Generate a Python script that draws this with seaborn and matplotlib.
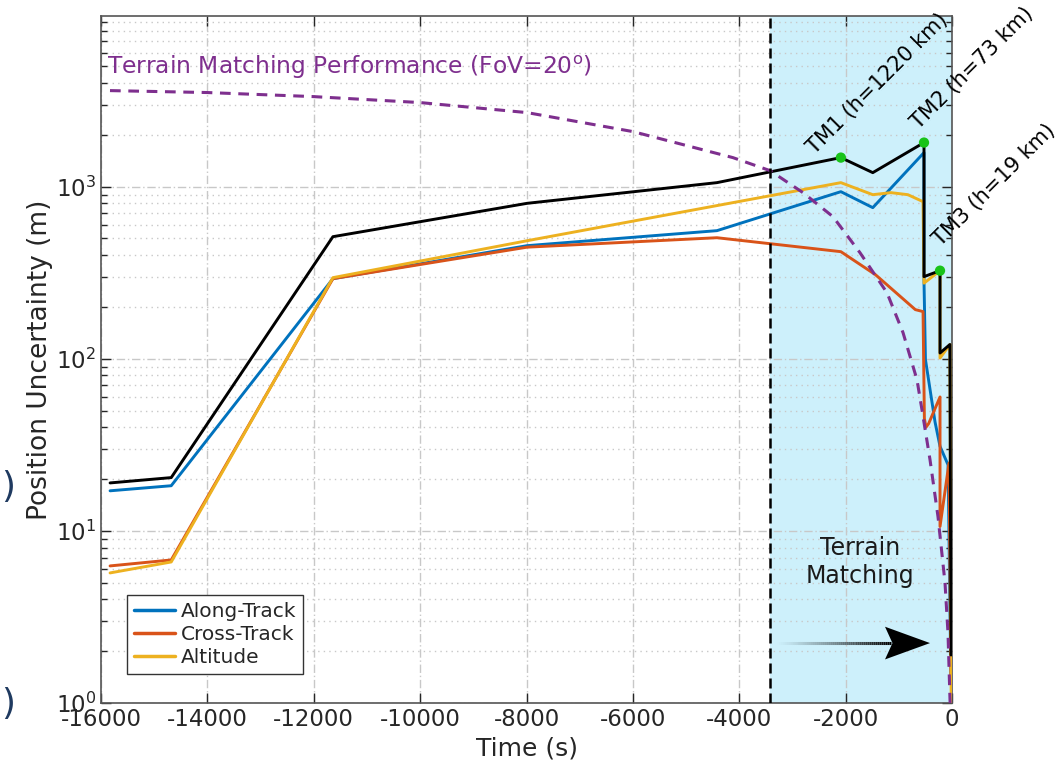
import numpy as np
import pandas as pd
import matplotlib
matplotlib.use("Agg")
import matplotlib.pyplot as plt
import seaborn as sns
from matplotlib.collections import LineCollection
from matplotlib.ticker import LogLocator, NullFormatter, FixedLocator

# ---------------- data ----------------
t_total = [-15830, -14680, -11640, -7990, -4420, -2090, -1490, -527, -527, -226, -226, -40, -20]
v_total = [19.0, 20.4, 512, 800, 1055, 1475, 1206, 1803, 300, 325, 108, 121, 1.9]

t_along = [-15830, -14680, -11640, -7990, -4420, -2090, -1490, -527, -527, -500, -320, -226, -75, -20]
v_along = [17.1, 18.3, 292, 454, 555, 935, 755, 1577, 280, 99, 43, 31, 24.2, 1.3]

t_cross = [-15830, -14680, -11640, -7990, -4420, -2090, -1440, -690, -545, -520, -490, -440, -226, -226, -57, -20]
v_cross = [6.26, 6.78, 292, 445, 505, 419, 308, 193, 188, 45, 40, 42, 60, 10.6, 24.8, 1.3]

t_alt = [-15830, -14680, -11640, -7990, -2090, -1490, -1150, -830, -545, -527, -226, -226, -40, -15]
v_alt = [5.70, 6.60, 296, 485, 1055, 898, 923, 898, 818, 275, 325, 101, 121, 0.8]

t_tm = [-15831, -14007, -12014, -10003, -7991, -5998, -4118, -3422, -2802, -2238,
        -1730, -1223, -922, -659, -565, -414, -264, -132, -76, -38, -20]
v_tm = [3614, 3522, 3336, 3080, 2693, 2088, 1474, 1239, 923, 669,
        413, 242, 142, 75.5, 50.5, 25.9, 12.1, 4.99, 2.55, 1.04, 0.8]

tm_names = ["TM1 (h=1220 km)", "TM2 (h=73 km)", "TM3 (h=19 km)"]
tm_t = [-2090, -527, -226]
tm_v = [1475, 1803, 325]

t_switch = -3420
x_ticks = [-16000, -14000, -12000, -10000, -8000, -6000, -4000, -2000, 0]
series_names = ["Along-Track", "Cross-Track", "Altitude"]

# ---------------- style ----------------
sns.set_style("ticks")
plt.rcParams["font.family"] = ["DejaVu Sans"]
plt.rcParams["mathtext.fontset"] = "dejavusans"
dark = "#262626"

fig = plt.figure(figsize=(10.61, 7.67), dpi=100)
ax = fig.add_axes([0.0952, 0.0834, 0.8021, 0.8957])

ax.axvspan(t_switch, 0, color="#cdf0fb", zorder=0, lw=0)

blue, orange, yellow, purple = "#0072BD", "#D95319", "#EDB120", "#7E2F8E"
lw = 2.1
for tt, vv, name, col in [(t_along, v_along, series_names[0], blue),
                          (t_cross, v_cross, series_names[1], orange),
                          (t_alt, v_alt, series_names[2], yellow)]:
    df = pd.DataFrame({"t": tt, "v": vv})
    sns.lineplot(data=df, x="t", y="v", ax=ax, color=col, lw=lw, label=name,
                 estimator=None, sort=False, zorder=3)
df = pd.DataFrame({"t": t_total, "v": v_total})
sns.lineplot(data=df, x="t", y="v", ax=ax, color="black", lw=lw, estimator=None,
             sort=False, zorder=4, legend=False)
df = pd.DataFrame({"t": t_tm, "v": v_tm})
sns.lineplot(data=df, x="t", y="v", ax=ax, color=purple, lw=2.2, estimator=None,
             sort=False, zorder=5, legend=False, linestyle=(0, (3.5, 2.5)))

ax.axvline(t_switch, color="black", lw=1.8, linestyle=(0, (4, 2)), zorder=5)

ax.scatter(tm_t, tm_v, s=55, color="#19c319", zorder=7, edgecolor="none")
offsets = [(-17, 0), (-2, 7), (3, 15)]
for name, tx, vy, off in zip(tm_names, tm_t, tm_v, offsets):
    ax.annotate(name, (tx, vy), xytext=off, textcoords="offset points",
                rotation=45, rotation_mode="anchor", ha="left", va="bottom",
                fontsize=15, color="black", annotation_clip=False, zorder=8)

ax.set_yscale("log")
ax.set_xlim(-16000, 0)
ax.set_ylim(1, 9800)
ax.xaxis.set_major_locator(FixedLocator(x_ticks))
ax.set_xticklabels([str(v) for v in x_ticks])
ax.yaxis.set_major_locator(FixedLocator([1, 10, 100, 1000]))
ax.yaxis.set_minor_locator(LogLocator(base=10, subs=np.arange(2, 10)))
ax.yaxis.set_minor_formatter(NullFormatter())

ax.grid(True, which="major", color="#c8c8c8", lw=1.0, linestyle=(0, (6, 2, 1, 2)), zorder=1)
ax.grid(True, which="minor", axis="y", color="#c8c8c8", lw=1.0, linestyle=(0, (1, 3)), zorder=1)
ax.set_axisbelow(True)

ax.tick_params(which="both", direction="in", top=True, right=True, colors=dark,
               labelsize=16.5, width=1.0)
ax.tick_params(which="major", length=7)
ax.tick_params(which="minor", length=4)
for s in ax.spines.values():
    s.set_color("#555555")
    s.set_linewidth(1.2)

ax.set_xlabel("Time (s)", fontsize=18, color=dark, labelpad=4)
ax.set_ylabel("Position Uncertainty (m)", fontsize=19, color=dark, labelpad=2)

ax.text(0.007, 0.925, "Terrain Matching Performance (FoV=20$^{\\mathrm{o}}$)",
        transform=ax.transAxes, fontsize=16.8, color=purple, ha="left", va="center", zorder=9)
ax.text(-1730, 6.6, "Terrain\nMatching", fontsize=17, color="#1a1a1a", ha="center",
        va="center", linespacing=1.2, zorder=6)

# gradient arrow
ya = 2.23
xs = np.linspace(-3330, -1150, 60)
pts = np.array([xs, np.full_like(xs, ya)]).T.reshape(-1, 1, 2)
segs = np.concatenate([pts[:-1], pts[1:]], axis=1)
alphas = np.linspace(0.0, 1.0, len(segs)) ** 1.3
cols = [(0, 0, 0, a) for a in alphas]
ax.add_collection(LineCollection(segs, colors=cols, linewidths=2.2, zorder=6))
head_x = [-414, -1260, -1120, -1260]
head_y = [ya, ya * 10 ** 0.095, ya, ya / 10 ** 0.095]
ax.fill(head_x, head_y, color="black", zorder=6, lw=0)

leg = ax.legend(loc="upper left", bbox_to_anchor=(0.031, 0.157), fontsize=14.5,
                frameon=True, fancybox=False, edgecolor="#333333", framealpha=1,
                handlelength=2.0, handletextpad=0.3, borderpad=0.35, labelspacing=0.2,
                borderaxespad=0)
leg.get_frame().set_linewidth(1.0)
for line in leg.get_lines():
    line.set_linewidth(2.5)

fig.text(0.001, 0.365, ")", fontsize=26, color="#1f3a60", ha="left", va="center")
fig.text(0.001, 0.082, ")", fontsize=26, color="#1f3a60", ha="left", va="center")

fig.savefig("out.png", dpi=100)
